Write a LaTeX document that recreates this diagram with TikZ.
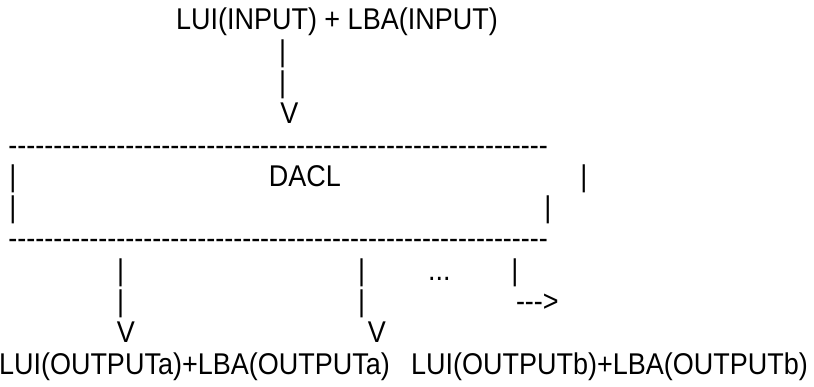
\documentclass[tikz,border=0pt]{standalone}
\usepackage{fontspec}
\setmainfont[Ligatures=TeXOff,FakeStretch=0.9]{Liberation Sans}
\newcommand{\asciifont}{\fontsize{30pt}{34pt}\selectfont}
\begin{document}
\begin{tikzpicture}[x=1pt,y=-1pt,
  txt/.style={inner sep=0pt, outer sep=0pt, anchor=base west, font=\asciifont},
  glyph/.style={inner sep=0pt, outer sep=0pt, anchor=base, font=\asciifont}]
\useasboundingbox (0,0) rectangle (814,387);
% input
\node[txt] (input) at (176,30) {LUI(INPUT) + LBA(INPUT)};
\node[glyph] (inbarA) at (282.7,61.3) {|};
\node[glyph] (inbarB) at (282.7,92.5) {|};
\node[glyph] (inV) at (289.5,123.8) {V};
% DACL box
\node[txt] (topline) at (8.5,155.1) {------------------------------------------------------------};
\node[glyph] (lbarA) at (13,186.4) {|};
\node[glyph] (dacl) at (305,186.4) {DACL};
\node[glyph] (rbarA) at (584,186.4) {|};
\node[glyph] (lbarB) at (13,217.6) {|};
\node[glyph] (rbarB) at (548,217.6) {|};
\node[txt] (botline) at (8.5,248.9) {------------------------------------------------------------};
% outputs
\node[glyph] (abarA) at (120.7,280.2) {|};
\node[glyph] (bbarA) at (361.7,280.2) {|};
\node[txt] (dots) at (428,280.2) {...};
\node[glyph] (cbarA) at (515,280.2) {|};
\node[glyph] (abarB) at (120.7,311.5) {|};
\node[glyph] (bbarB) at (361.7,311.5) {|};
\node[txt] (more) at (516,311.5) {--->};
\node[glyph] (aV) at (126,342.7) {V};
\node[glyph] (bV) at (377,342.7) {V};
\node[txt] (outa) at (-1,374) {LUI(OUTPUTa)+LBA(OUTPUTa)};
\node[txt] (outb) at (411,374) {LUI(OUTPUTb)+LBA(OUTPUTb)};
\end{tikzpicture}
\end{document}
